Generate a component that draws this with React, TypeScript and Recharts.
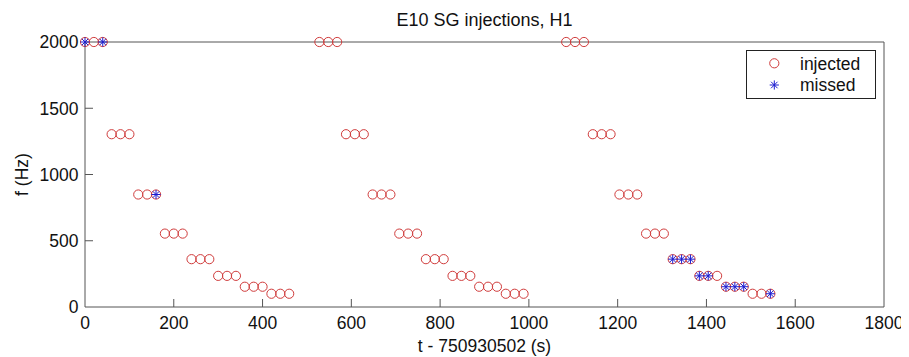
import { ScatterChart, Scatter, XAxis, YAxis, Legend } from 'recharts';

// injection times (s after 750930502) and frequencies (Hz)
const injectedT = [
  0, 20, 40, 60, 80, 100, 120, 140, 160, 180, 200, 220,
  240, 260, 280, 300, 320, 340, 360, 380, 400, 420, 440, 460,
  528, 548, 568, 588, 608, 628, 648, 668, 688, 708, 728, 748,
  768, 788, 808, 828, 848, 868, 888, 908, 928, 948, 968, 988,
  1084, 1104, 1124, 1144, 1164, 1184, 1204, 1224, 1244, 1264, 1284, 1304,
  1324, 1344, 1364, 1384, 1404, 1424, 1444, 1464, 1484, 1504, 1524, 1544,
];
const injectedF = [
  2000, 2000, 2000, 1304, 1304, 1304, 849, 849, 849, 554, 554, 554,
  361, 361, 361, 235, 235, 235, 153, 153, 153, 100, 100, 100,
  2000, 2000, 2000, 1304, 1304, 1304, 849, 849, 849, 554, 554, 554,
  361, 361, 361, 235, 235, 235, 153, 153, 153, 100, 100, 100,
  2000, 2000, 2000, 1304, 1304, 1304, 849, 849, 849, 554, 554, 554,
  361, 361, 361, 235, 235, 235, 153, 153, 153, 100, 100, 100,
];
const missedT = [0, 40, 160, 1324, 1344, 1364, 1384, 1404, 1444, 1464, 1484, 1544];
const missedF = [2000, 2000, 849, 361, 361, 361, 235, 235, 153, 153, 153, 100];

const xTicks = [0, 200, 400, 600, 800, 1000, 1200, 1400, 1600, 1800];
const yTicks = [0, 500, 1000, 1500, 2000];

const injected = injectedT.map((t, i) => ({ t, f: injectedF[i] }));
const missed = missedT.map((t, i) => ({ t, f: missedF[i] }));

const FONT = '"Liberation Sans", Arial, sans-serif';
const AXIS = '#555';
const RED = '#d03c3c';
const BLUE = '#1c1cd0';
const TICK = 8;

const Ring = (p: any) => (
  <circle cx={p.cx} cy={p.cy} r={4.6} fill="none" stroke={RED} strokeWidth={1} />
);

const Star = (p: any) => {
  const r = 4.6;
  const d = r * 0.707;
  return (
    <g stroke={BLUE} strokeWidth={1}>
      <line x1={p.cx - r} x2={p.cx + r} y1={p.cy} y2={p.cy} />
      <line x1={p.cx} x2={p.cx} y1={p.cy - r} y2={p.cy + r} />
      <line x1={p.cx - d} x2={p.cx + d} y1={p.cy - d} y2={p.cy + d} />
      <line x1={p.cx - d} x2={p.cx + d} y1={p.cy + d} y2={p.cy - d} />
    </g>
  );
};

const BottomTick = ({ x, y, payload }: any) => (
  <g>
    {payload.value > 0 && payload.value < 1800 && (
      <line x1={x} x2={x} y1={y} y2={y - TICK} stroke={AXIS} />
    )}
    <text x={x} y={y + 22} textAnchor="middle" fontFamily={FONT} fontSize={17.5} fill="#111">
      {payload.value}
    </text>
  </g>
);

const TopTick = ({ x, y, payload }: any) =>
  payload.value > 0 && payload.value < 1800 ? (
    <line x1={x} x2={x} y1={y} y2={y + TICK} stroke={AXIS} />
  ) : (
    <g />
  );

const LeftTick = ({ x, y, payload }: any) => (
  <g>
    {payload.value > 0 && payload.value < 2000 && (
      <line x1={x} x2={x + TICK} y1={y} y2={y} stroke={AXIS} />
    )}
    <text x={x - 6.5} y={y + 6.3} textAnchor="end" fontFamily={FONT} fontSize={17.5} fill="#111">
      {payload.value}
    </text>
  </g>
);

const RightTick = ({ x, y, payload }: any) =>
  payload.value > 0 && payload.value < 2000 ? (
    <line x1={x} x2={x - TICK} y1={y} y2={y} stroke={AXIS} />
  ) : (
    <g />
  );

const LegendBox = ({ payload }: any) => (
  <svg width={130} height={49} style={{ display: 'block' }}>
    <rect x={0.5} y={0.5} width={129} height={48} fill="#fff" stroke="#222" />
    {(payload || []).map((item: any, i: number) => {
      const cy = 13.3 + i * 21.7;
      return (
        <g key={item.value}>
          {item.value === 'injected' ? <Ring cx={28.3} cy={cy} /> : <Star cx={28.3} cy={cy} />}
          <text x={54} y={cy + 6.3} fontFamily={FONT} fontSize={17.5} fill="#111">
            {item.value}
          </text>
        </g>
      );
    })}
  </svg>
);

const App = () => (
  <ScatterChart
    width={901}
    height={349}
    margin={{ top: 33, right: 24, bottom: 0, left: 0 }}
    style={{ fontFamily: FONT }}
  >
    <XAxis
      dataKey="t"
      type="number"
      domain={[0, 1800]}
      ticks={xTicks}
      height={50}
      tickSize={0}
      tickMargin={0}
      tickLine={false}
      axisLine={{ stroke: AXIS }}
      tick={<BottomTick />}
      label={{
        value: 't - 750930502 (s)',
        position: 'insideBottom',
        offset: 5.3,
        fontSize: 17.5,
        fill: '#111',
        fontFamily: FONT,
      }}
    />
    <XAxis
      xAxisId="top"
      orientation="top"
      type="number"
      domain={[0, 1800]}
      ticks={xTicks}
      height={1}
      tickSize={0}
      tickMargin={0}
      tickLine={false}
      axisLine={{ stroke: AXIS }}
      tick={<TopTick />}
      label={{
        value: 'E10 SG injections, H1',
        position: 'top',
        offset: 14.6,
        fontSize: 18,
        fill: '#111',
        fontFamily: FONT,
      }}
    />
    <YAxis
      dataKey="f"
      type="number"
      domain={[0, 2000]}
      ticks={yTicks}
      width={77}
      tickSize={0}
      tickMargin={0}
      tickLine={false}
      axisLine={{ stroke: AXIS }}
      tick={<LeftTick />}
      label={{
        value: 'f (Hz)',
        angle: -90,
        position: 'insideLeft',
        offset: 13.7,
        fontSize: 17.5,
        fill: '#111',
        fontFamily: FONT,
        style: { textAnchor: 'middle' },
      }}
    />
    <YAxis
      yAxisId="right"
      orientation="right"
      type="number"
      domain={[0, 2000]}
      ticks={yTicks}
      width={1}
      tickSize={0}
      tickMargin={0}
      tickLine={false}
      axisLine={{ stroke: AXIS }}
      tick={<RightTick />}
    />
    <Legend
      layout="vertical"
      align="center"
      verticalAlign="middle"
      wrapperStyle={{ left: 738, top: 42, width: 130, height: 49 }}
      content={<LegendBox />}
    />
    <Scatter name="injected" data={injected} shape={<Ring />} isAnimationActive={false} />
    <Scatter name="missed" data={missed} shape={<Star />} isAnimationActive={false} />
  </ScatterChart>
);

export default App;
